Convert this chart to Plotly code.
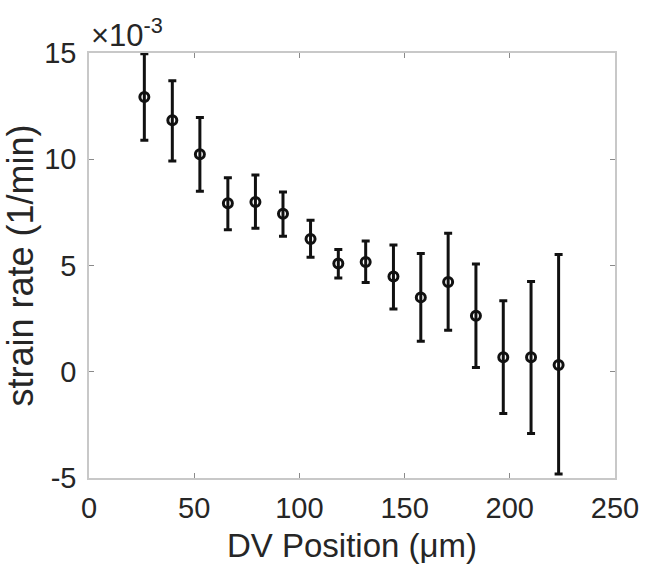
import plotly.graph_objects as go

# DV position (µm)
dv_position = [26.3, 39.6, 52.7, 66.0, 79.1, 92.2, 105.3, 118.5, 131.5, 144.7, 157.7, 170.7, 183.9, 196.9, 210.1, 223.2]
# strain rate (x 1e-3 1/min)
strain_rate = [12.93, 11.83, 10.24, 7.93, 7.99, 7.43, 6.25, 5.09, 5.17, 4.48, 3.50, 4.22, 2.64, 0.68, 0.68, 0.32]
err_upper = [14.97, 13.69, 11.97, 9.13, 9.26, 8.46, 7.13, 5.75, 6.15, 5.96, 5.56, 6.52, 5.07, 3.34, 4.25, 5.52]
err_lower = [10.89, 9.92, 8.49, 6.68, 6.75, 6.38, 5.39, 4.41, 4.20, 2.95, 1.43, 1.95, 0.20, -1.96, -2.90, -4.81]

x_ticks = [0, 50, 100, 150, 200, 250]
y_ticks = [-5, 0, 5, 10, 15]
y_tick_labels = ["-5", "0", "5", "10", "15"]

plus = [u - v for u, v in zip(err_upper, strain_rate)]
minus = [v - l for v, l in zip(strain_rate, err_lower)]

FONT = "Liberation Sans, Arial, Helvetica, sans-serif"
TXT = "#262626"

fig = go.Figure()
fig.add_trace(go.Scatter(
    x=dv_position, y=strain_rate, mode="markers",
    marker=dict(symbol="circle-open", size=9, color="#111111", line=dict(width=3, color="#111111")),
    error_y=dict(type="data", symmetric=False, array=plus, arrayminus=minus,
                 color="#111111", thickness=3, width=4),
    showlegend=False,
))

axis_common = dict(
    showgrid=False, zeroline=False, showline=True, linecolor="#c8c8c8", linewidth=1.5,
    mirror="ticks", ticks="inside", ticklen=5, tickwidth=1, tickcolor="#8a8a8a",
    tickfont=dict(family=FONT, size=29, color=TXT),
)

fig.update_layout(
    width=651, height=570,
    paper_bgcolor="white", plot_bgcolor="white",
    margin=dict(l=89, r=27, t=53, b=91),
    xaxis=dict(range=[0, 250], tickvals=x_ticks, ticklabelstandoff=3,
               title=dict(text="DV Position (μm)", font=dict(family=FONT, size=33, color=TXT), standoff=11),
               **axis_common),
    yaxis=dict(range=[-5, 15], tickvals=y_ticks, ticktext=y_tick_labels, ticklabelstandoff=5,
               title=dict(text="strain rate (1/min)", font=dict(family=FONT, size=36, color=TXT), standoff=3),
               **axis_common),
    annotations=[dict(
        text="×10<sup>-3</sup>", xref="paper", yref="paper", x=0.0, y=1.0,
        xanchor="left", yanchor="bottom", showarrow=False, xshift=0, yshift=-2,
        font=dict(family=FONT, size=31, color=TXT),
    )],
)

fig.write_html("out.html")
